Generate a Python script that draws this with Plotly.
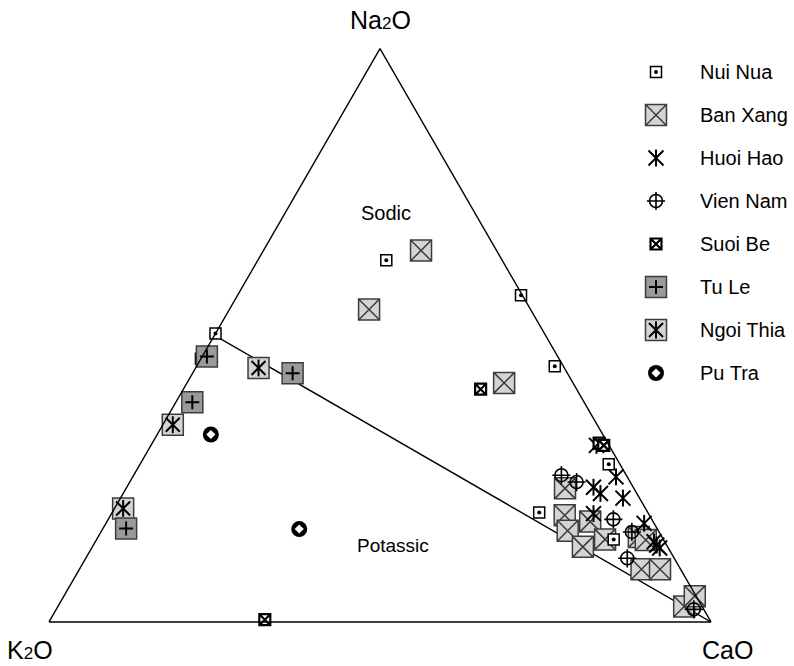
import plotly.graph_objects as go

W, H = 794, 666
FONT = "Liberation Sans, Arial, Helvetica, sans-serif"

# ---------------- data (Na2O, K2O, CaO in %) ----------------
groups = ["Nui Nua", "Ban Xang", "Huoi Hao", "Vien Nam", "Suoi Be", "Tu Le", "Ngoi Thia", "Pu Tra"]

nui_nua_na2o = [63.1, 57.0, 44.6, 50.3, 45.9, 27.5, 14.4, 19.1]
nui_nua_k2o = [17.5, 0.2, 1.3, 49.7, 54.1, 1.7, 7.5, 16.4]
nui_nua_cao = [19.4, 42.8, 54.1, 0.0, 0.0, 70.8, 78.1, 64.5]

ban_xang_na2o = [64.8, 54.5, 41.7, 23.3, 18.6, 17.5, 15.9, 13.1, 14.4, 14.8, 14.3, 9.2, 9.2, 2.7, 4.5]
ban_xang_k2o = [11.4, 24.4, 10.4, 10.4, 12.8, 9.5, 13.7, 12.8, 8.8, 3.5, 2.7, 5.9, 3.1, 2.7, 0.2]
ban_xang_cao = [23.8, 21.1, 47.9, 66.3, 68.6, 73.0, 70.4, 74.1, 76.8, 81.7, 83.0, 84.9, 87.7, 94.6, 95.3]

huoi_hao_na2o = [30.8, 25.3, 23.5, 22.4, 21.6, 18.9, 17.2, 14.0, 12.9, 13.4]
huoi_hao_k2o = [1.9, 1.7, 6.0, 5.5, 2.5, 8.3, 1.5, 1.6, 1.3, 1.5]
huoi_hao_cao = [67.3, 73.0, 70.5, 72.1, 75.9, 72.8, 81.3, 84.4, 85.8, 85.1]

vien_nam_na2o = [25.6, 24.4, 17.9, 15.7, 11.1, 2.2]
vien_nam_k2o = [9.8, 8.1, 5.8, 4.1, 7.1, 1.5]
vien_nam_cao = [64.6, 67.5, 76.3, 80.2, 81.8, 96.3]

suoi_be_na2o = [40.6, 0.4, 31.2, 30.8]
suoi_be_k2o = [14.5, 67.2, 1.3, 0.8]
suoi_be_cao = [44.9, 32.4, 67.5, 68.4]

tu_le_na2o = [46.3, 43.4, 38.3, 16.3]
tu_le_k2o = [53.0, 41.5, 59.2, 80.2]
tu_le_cao = [0.7, 15.1, 2.5, 3.5]

ngoi_thia_na2o = [44.3, 34.4, 19.8]
ngoi_thia_k2o = [46.2, 64.1, 78.9]
ngoi_thia_cao = [9.5, 1.5, 1.3]

pu_tra_na2o = [32.7, 16.2]
pu_tra_k2o = [59.2, 54.1]
pu_tra_cao = [8.1, 29.7]

# Sodic / Potassic boundary (Na2O = K2O)
divider_na2o = [50, 0]
divider_k2o = [50, 0]
divider_cao = [0, 100]

data = {
    "Nui Nua": (nui_nua_na2o, nui_nua_k2o, nui_nua_cao),
    "Ban Xang": (ban_xang_na2o, ban_xang_k2o, ban_xang_cao),
    "Huoi Hao": (huoi_hao_na2o, huoi_hao_k2o, huoi_hao_cao),
    "Vien Nam": (vien_nam_na2o, vien_nam_k2o, vien_nam_cao),
    "Suoi Be": (suoi_be_na2o, suoi_be_k2o, suoi_be_cao),
    "Tu Le": (tu_le_na2o, tu_le_k2o, tu_le_cao),
    "Ngoi Thia": (ngoi_thia_na2o, ngoi_thia_k2o, ngoi_thia_cao),
    "Pu Tra": (pu_tra_na2o, pu_tra_k2o, pu_tra_cao),
}

# ---------------- marker styles (layered symbols) ----------------
def lay(symbol, size, fill, line, lw):
    return dict(symbol=symbol, size=size, color=fill, line=dict(color=line, width=lw))

styles = {
    "Nui Nua": [lay("square", 11, "white", "black", 1.5),
                lay("circle", 4, "black", "black", 0)],
    "Ban Xang": [lay("square-x", 21, "#d4d4d4", "#3c3c3c", 1.5)],
    "Huoi Hao": [lay("x-thin-open", 15, "black", "black", 2),
                 lay("line-ns-open", 12, "black", "black", 2)],
    "Vien Nam": [lay("circle-open", 13, "black", "black", 1.6),
                 lay("cross-thin-open", 13, "black", "black", 1.6)],
    "Suoi Be": [lay("square-x", 11, "white", "black", 2.2)],
    "Tu Le": [lay("square", 21, "#9a9a9a", "#3c3c3c", 1.5),
              lay("cross-thin-open", 10, "black", "black", 2)],
    "Ngoi Thia": [lay("square", 21, "#d4d4d4", "#3c3c3c", 1.5),
                  lay("x-thin-open", 14, "black", "black", 2),
                  lay("line-ns-open", 12, "black", "black", 2)],
    "Pu Tra": [lay("circle", 16, "black", "black", 0),
               lay("diamond", 7, "white", "white", 0)],
}

draw_order = ["Ban Xang", "Nui Nua", "Ngoi Thia", "Tu Le", "Huoi Hao", "Vien Nam", "Suoi Be", "Pu Tra"]

fig = go.Figure()

fig.add_trace(go.Scatterternary(
    a=divider_na2o, b=divider_k2o, c=divider_cao, mode="lines",
    line=dict(color="black", width=1.4), showlegend=False, hoverinfo="skip"))

for g in draw_order:
    na, k, ca = data[g]
    for st in styles[g]:
        fig.add_trace(go.Scatterternary(
            a=na, b=k, c=ca, mode="markers", name=g, marker=st,
            showlegend=False, cliponaxis=False))

# ---------------- custom legend (pixel layout on an overlay axis) ----------------
legend_marker_x = 656
legend_text_x = 698
legend_y0 = 72
legend_dy = 43

for i, g in enumerate(groups):
    y = legend_y0 + i * legend_dy
    for st in styles[g]:
        fig.add_trace(go.Scatter(
            x=[legend_marker_x], y=[y], mode="markers", marker=st,
            showlegend=False, hoverinfo="skip", xaxis="x", yaxis="y"))

annotations = []
for i, g in enumerate(groups):
    annotations.append(dict(x=legend_text_x, y=legend_y0 + i * legend_dy, text=g,
                            xanchor="left", yanchor="middle", showarrow=False,
                            font=dict(size=20, color="black", family=FONT)))

labels = [
    ("Na<span style='font-size:17px'>2</span>O", 380, 20, 25),
    ("K<span style='font-size:17px'>2</span>O", 30, 650, 25),
    ("CaO", 727, 650, 25),
    ("Sodic", 386, 213, 20),
    ("Potassic", 393, 545, 19),
]
for t, x, y, s in labels:
    annotations.append(dict(x=x, y=y, text=t, xanchor="center", yanchor="middle",
                            showarrow=False, font=dict(size=s, color="black", family=FONT)))
for a in annotations:
    a["xref"] = "x"
    a["yref"] = "y"

axis_common = dict(showgrid=False, showticklabels=False, ticks="", showline=True,
                   linecolor="black", linewidth=1.4, min=0, title=dict(text=""))

fig.update_layout(
    width=W, height=H,
    margin=dict(l=0, r=0, t=0, b=0, pad=0),
    paper_bgcolor="white",
    plot_bgcolor="rgba(0,0,0,0)",
    showlegend=False,
    font=dict(family=FONT, color="black"),
    ternary=dict(
        sum=100,
        domain=dict(x=[49 / W, 711 / W], y=[0.0566, 0.9365]),
        bgcolor="white",
        aaxis=axis_common, baxis=axis_common, caxis=axis_common,
    ),
    xaxis=dict(range=[0, W], visible=False, fixedrange=True, domain=[0, 1]),
    yaxis=dict(range=[H, 0], visible=False, fixedrange=True, domain=[0, 1]),
    annotations=annotations,
)

fig.write_html("out.html", config={"displayModeBar": False},
               post_script="document.body.style.margin='0';document.body.style.overflow='hidden';")
